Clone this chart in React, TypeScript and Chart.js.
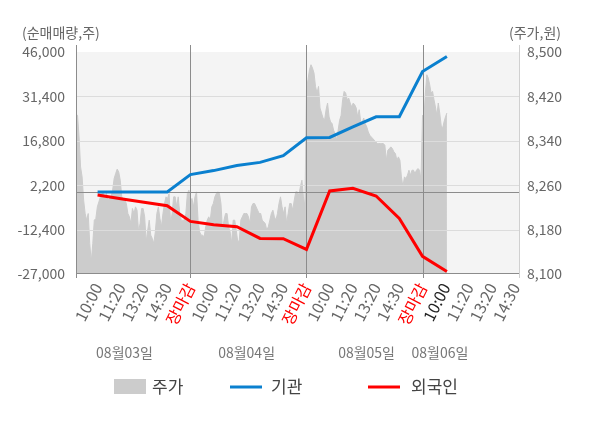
import React, { useEffect, useRef } from 'react';
import { Chart, registerables } from 'chart.js';

Chart.register(...registerables);

const FONT = "'Noto Sans CJK KR', 'Noto Sans', sans-serif";

// ---- data ----
const xTickLabels = [
  '10:00', '11:20', '13:20', '14:30', '장마감',
  '10:00', '11:20', '13:20', '14:30', '장마감',
  '10:00', '11:20', '13:20', '14:30', '장마감',
  '10:00', '11:20', '13:20', '14:30',
];
const dateLabels = ['08월03일', '08월04일', '08월05일', '08월06일'];
const dateLabelPos = [2.16, 7.42, 12.59, 15.75];
const leftTicks = [-27000, -12400, 2200, 16800, 31400, 46000];
const rightTicks = [8100, 8180, 8260, 8340, 8420, 8500];

const priceDay1 = [
  8388, 8386, 8347, 8293, 8275, 8233, 8209, 8197, 8209, 8155, 8122, 8155, 8197, 8200, 8221, 8230,
  8239, 8245, 8245, 8239, 8245, 8233, 8236, 8239, 8251, 8272, 8281, 8289, 8284, 8269, 8239, 8236,
  8233, 8227, 8209, 8203, 8191, 8218, 8209, 8221, 8215, 8176, 8191, 8218, 8218, 8203, 8158, 8179,
  8197, 8170, 8164, 8155, 8176, 8209, 8221, 8200, 8185, 8209, 8227, 8239, 8236, 8245, 8191, 8209,
  8239, 8239, 8221, 8239, 8209, 8197, 8197, 8197, 8209, 8245, 8251,
];
const priceDay2 = [
  8233, 8236, 8221, 8239, 8248, 8197, 8176, 8170, 8170, 8167, 8185, 8197, 8203, 8197, 8221, 8227,
  8239, 8245, 8248, 8245, 8227, 8179, 8197, 8209, 8209, 8185, 8176, 8155, 8197, 8197, 8179, 8158,
  8161, 8197, 8203, 8209, 8209, 8209, 8203, 8191, 8221, 8227, 8227, 8221, 8215, 8209, 8209, 8197,
  8194, 8191, 8179, 8185, 8197, 8209, 8215, 8203, 8197, 8209, 8227, 8239, 8221, 8209, 8221, 8191,
  8209, 8227, 8227, 8215, 8233, 8248, 8248, 8242, 8257, 8269, 8239, 8221,
];
const priceDay3 = [
  8432, 8450, 8468, 8477, 8471, 8462, 8438, 8426, 8438, 8399, 8390, 8381, 8377, 8396, 8408, 8383,
  8374, 8371, 8359, 8353, 8341, 8359, 8377, 8386, 8414, 8429, 8426, 8414, 8417, 8408, 8401, 8408,
  8405, 8399, 8383, 8396, 8374, 8374, 8381, 8371, 8365, 8356, 8350, 8347, 8344, 8341, 8338, 8335,
  8335, 8335, 8335, 8335, 8332, 8305, 8323, 8326, 8329, 8326, 8320, 8317, 8305, 8311, 8305, 8275,
  8257, 8275, 8272, 8278, 8287, 8278, 8287, 8287, 8281, 8287, 8290, 8287, 8270,
];
const priceDay4 = [
  8386, 8383, 8426, 8459, 8453, 8441, 8426, 8429, 8414, 8401, 8386, 8408, 8390, 8368, 8362, 8374,
  8383, 8390,
];
const priceDays = [priceDay1, priceDay2, priceDay3, priceDay4];
const dayStart = [0.07, 5, 10, 15];
const dayEnd = [5, 10, 15, 16.05];

const flowX = [1, 2, 3, 4, 5, 6, 7, 8, 9, 10, 11, 12, 13, 14, 15, 16.05];
const institution = [
  0, 0, 0, 0, 5700, 7000, 8700, 9700, 11900, 17800, 17900, 21400, 24700, 24700, 39600, 44500,
];
const foreigner = [
  -1000, -2240, -3420, -4540, -9700, -10800, -11450, -15300, -15400, -18900, 300, 1200, -1350,
  -8700, -21200, -26200,
];

const X_MIN = 0.07;
const X_MAX = 19.2;

function buildPricePoints() {
  const pts: { x: number; y: number }[] = [];
  priceDays.forEach((arr, d) => {
    const span = dayEnd[d] - dayStart[d];
    const step = d === 3 ? span / (arr.length - 1) : span / arr.length;
    arr.forEach((v, i) => pts.push({ x: dayStart[d] + i * step, y: v }));
  });
  return pts;
}

const fmt = (v: number) => Number(v).toLocaleString('en-US');

const decor = {
  id: 'decor',
  beforeDraw(chart: any) {
    const { ctx, chartArea: a } = chart;
    ctx.save();
    ctx.fillStyle = '#f4f4f4';
    ctx.fillRect(a.left, a.top, a.right - a.left, a.bottom - a.top);
    ctx.restore();
  },
  afterDatasetDraw(chart: any, args: any) {
    if (args.index !== 0) return;
    const { ctx, chartArea: a, scales } = chart;
    const y = scales.y;
    const x = scales.x;
    ctx.save();
    ctx.lineWidth = 1;
    ctx.strokeStyle = '#dcdcdc';
    leftTicks.forEach((t) => {
      if (t === leftTicks[0] || t === leftTicks[leftTicks.length - 1]) return;
      const py = Math.round(y.getPixelForValue(t)) + 0.5;
      ctx.beginPath();
      ctx.moveTo(a.left, py);
      ctx.lineTo(a.right, py);
      ctx.stroke();
    });
    ctx.strokeStyle = '#8c8c8c';
    const zy = Math.round(y.getPixelForValue(0)) + 0.5;
    ctx.beginPath();
    ctx.moveTo(a.left, zy);
    ctx.lineTo(a.right, zy);
    ctx.stroke();
    const by = Math.round(a.bottom) - 0.5;
    ctx.beginPath();
    ctx.moveTo(a.left, by);
    ctx.lineTo(a.right, by);
    ctx.stroke();
    const vx = [a.left, x.getPixelForValue(5), x.getPixelForValue(10), x.getPixelForValue(15)];
    vx.forEach((px) => {
      const p = Math.round(px) + 0.5;
      ctx.beginPath();
      ctx.moveTo(p, a.top - 7);
      ctx.lineTo(p, a.bottom + 4);
      ctx.stroke();
    });
    ctx.strokeStyle = '#d0d0d0';
    const rp = Math.round(a.right) - 0.5;
    ctx.beginPath();
    ctx.moveTo(rp, a.top - 7);
    ctx.lineTo(rp, a.bottom + 4);
    ctx.stroke();
    ctx.restore();
  },
  afterDraw(chart: any) {
    const { ctx, scales } = chart;
    const x = scales.x;
    ctx.save();
    ctx.textBaseline = 'middle';
    ctx.fillStyle = '#666';
    ctx.font = `14px ${FONT}`;
    ctx.textAlign = 'left';
    ctx.fillText('(순매매량,주)', 22, 33);
    ctx.fillText('(주가,원)', 509, 33);
    ctx.textAlign = 'center';
    ctx.fillStyle = '#777';
    dateLabels.forEach((t, i) => {
      ctx.fillText(t, x.getPixelForValue(dateLabelPos[i]), 353);
    });
    const ly = 387;
    ctx.fillStyle = '#cccccc';
    ctx.fillRect(114, 379, 32, 15);
    ctx.lineWidth = 3;
    ctx.strokeStyle = '#0a80cf';
    ctx.beginPath();
    ctx.moveTo(230, ly);
    ctx.lineTo(262, ly);
    ctx.stroke();
    ctx.strokeStyle = '#ff0000';
    ctx.beginPath();
    ctx.moveTo(368, ly);
    ctx.lineTo(400, ly);
    ctx.stroke();
    ctx.font = `17px ${FONT}`;
    ctx.fillStyle = '#444';
    ctx.textAlign = 'left';
    ctx.fillText('주가', 152, ly);
    ctx.fillText('기관', 271, ly);
    ctx.fillText('외국인', 411, ly);
    ctx.restore();
  },
};

export default function App() {
  const ref = useRef<HTMLCanvasElement>(null);
  useEffect(() => {
    if (!ref.current) return;
    const chart = new Chart(ref.current, {
      type: 'line',
      data: {
        datasets: [
          {
            label: '주가',
            data: buildPricePoints(),
            yAxisID: 'y1',
            borderColor: '#cccccc',
            backgroundColor: '#cccccc',
            borderWidth: 1,
            pointRadius: 0,
            fill: 'start',
            tension: 0,
            order: 3,
          },
          {
            label: '기관',
            data: flowX.map((xv, i) => ({ x: xv, y: institution[i] })),
            yAxisID: 'y',
            borderColor: '#0a80cf',
            borderWidth: 3,
            pointRadius: 0,
            fill: false,
            tension: 0,
            order: 2,
          },
          {
            label: '외국인',
            data: flowX.map((xv, i) => ({ x: xv, y: foreigner[i] })),
            yAxisID: 'y',
            borderColor: '#ff0000',
            borderWidth: 3,
            pointRadius: 0,
            fill: false,
            tension: 0,
            order: 1,
          },
        ],
      },
      options: {
        animation: false,
        responsive: false,
        devicePixelRatio: 1,
        layout: { padding: { top: 52, left: 0, right: 0, bottom: 0 } },
        plugins: { legend: { display: false }, tooltip: { enabled: false } },
        scales: {
          x: {
            type: 'linear',
            min: X_MIN,
            max: X_MAX,
            afterBuildTicks: (s: any) => {
              s.ticks = xTickLabels.map((_, i) => ({ value: i + 1 }));
            },
            afterFit: (s: any) => {
              s.height = 154;
            },
            grid: { display: false, drawTicks: false },
            border: { display: false },
            ticks: {
              autoSkip: false,
              minRotation: 63,
              maxRotation: 63,
              padding: 6,
              font: { size: 16, family: FONT },
              color: (c: any) => {
                const lab = xTickLabels[c.index];
                if (lab === '장마감') return '#ff0000';
                if (c.index === 15) return '#222';
                return '#666';
              },
              callback: (v: any) => xTickLabels[Math.round(Number(v)) - 1] ?? '',
            },
          },
          y: {
            type: 'linear',
            position: 'left',
            min: leftTicks[0],
            max: leftTicks[leftTicks.length - 1],
            afterBuildTicks: (s: any) => {
              s.ticks = leftTicks.map((v) => ({ value: v }));
            },
            afterFit: (s: any) => {
              s.width = 76;
            },
            grid: { display: false, drawTicks: false },
            border: { display: false },
            ticks: {
              padding: 11,
              color: '#666',
              font: { size: 14, family: FONT },
              callback: (v: any) => fmt(v),
            },
          },
          y1: {
            type: 'linear',
            position: 'right',
            min: rightTicks[0],
            max: rightTicks[rightTicks.length - 1],
            afterBuildTicks: (s: any) => {
              s.ticks = rightTicks.map((v) => ({ value: v }));
            },
            afterFit: (s: any) => {
              s.width = 80;
            },
            grid: { display: false, drawTicks: false },
            border: { display: false },
            ticks: {
              padding: 7,
              color: '#666',
              font: { size: 14, family: FONT },
              callback: (v: any) => fmt(v),
            },
          },
        },
      },
      plugins: [decor],
    });
    return () => chart.destroy();
  }, []);
  return (
    <div style={{ position: 'absolute', left: 0, top: 0, width: 600, height: 428 }}>
      <canvas ref={ref} width={600} height={428} style={{ width: 600, height: 428 }} />
    </div>
  );
}
